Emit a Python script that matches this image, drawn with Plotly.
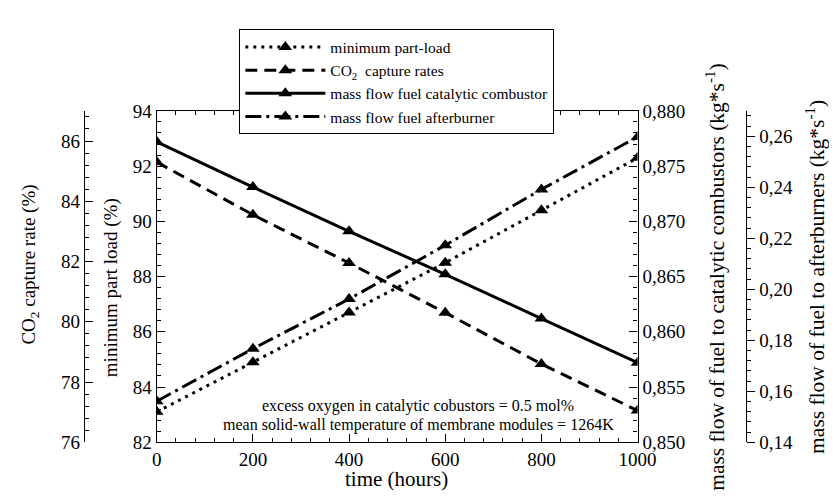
import plotly.graph_objects as go

hours = [0, 200, 400, 600, 800, 1000]
min_part_load = [83.1, 84.9, 86.7, 88.5, 90.4, 92.3]
co2_capture = [85.3, 83.55, 81.95, 80.3, 78.6, 77.05]
fuel_catalytic = [0.8772, 0.8731, 0.8691, 0.8652, 0.8612, 0.8572]
fuel_afterburner = [0.1561, 0.1767, 0.1962, 0.2173, 0.2392, 0.2598]

names = ["minimum part-load", "CO<sub>2</sub>  capture rates",
         "mass flow fuel catalytic combustor", "mass flow fuel afterburner"]
x_title = "time (hours)"
y_titles = ["minimum part load (%)", "CO<sub>2</sub> capture rate (%)",
            "mass flow of fuel to catalytic combustors (kg*s<sup>-1</sup>)",
            "mass flow of fuel to afterburners (kg*s<sup>-1</sup>)"]

W, H = 837, 496
FONT = "'Liberation Serif', 'Times New Roman', Times, serif"
x0, x1 = 148 / W, 643 / W
y0, y1 = (H - 443) / H, (H - 97) / H

fig = go.Figure()
mk = dict(symbol="triangle-up", size=12, color="black")
fig.add_trace(go.Scatter(x=hours, y=min_part_load, name=names[0], mode="lines+markers",
                         line=dict(color="black", width=3, dash="3px,5px"), marker=mk,
                         xaxis="x", yaxis="y"))
fig.add_trace(go.Scatter(x=hours, y=co2_capture, name=names[1], mode="lines+markers",
                         line=dict(color="black", width=3, dash="12px,7px"), marker=mk,
                         xaxis="x", yaxis="y2"))
fig.add_trace(go.Scatter(x=hours, y=fuel_catalytic, name=names[2], mode="lines+markers",
                         line=dict(color="black", width=3), marker=mk,
                         xaxis="x", yaxis="y3"))
fig.add_trace(go.Scatter(x=hours, y=fuel_afterburner, name=names[3], mode="lines+markers",
                         line=dict(color="black", width=3, dash="16px,5px,3px,5px"), marker=mk,
                         xaxis="x", yaxis="y4"))

tickfont = dict(family=FONT, size=19, color="black")

common = dict(showline=True, linecolor="black", linewidth=1.2, showgrid=False,
              zeroline=False, tickfont=tickfont, tickcolor="black", ticklen=8)
minor = lambda d, t: dict(dtick=d, ticks=t, ticklen=4, tickcolor="black")

def title_ann(text, x, y, size, angle=-90):
    return dict(text=text, xref="paper", yref="paper", x=x / W, y=(H - y) / H,
                showarrow=False, xanchor="center", yanchor="middle", textangle=angle,
                font=dict(family=FONT, size=size, color="black"))

fig.update_layout(
    width=W, height=H,
    margin=dict(l=0, r=0, t=0, b=0),
    paper_bgcolor="white", plot_bgcolor="white",
    separators=",.",
    font=dict(family=FONT, color="black"),
    xaxis=dict(domain=[x0, x1], range=[0, 1000], dtick=200, ticks="inside",
               mirror="ticks", minor=minor(40, "inside"), tickformat="d", **common),
    yaxis=dict(domain=[y0, y1], range=[82, 94], dtick=2, ticks="inside",
               minor=minor(0.4, "inside"), **common),
    yaxis2=dict(overlaying="y", anchor="free", position=73 / W, side="left",
                range=[76, 87], tickvals=[76, 78, 80, 82, 84, 86], ticks="inside",
                minor=minor(0.4, "inside"), **common),
    yaxis3=dict(overlaying="y", anchor="x", side="right", range=[0.850, 0.880],
                dtick=0.005, tickformat=".3f", ticks="inside",
                minor=minor(0.001, "inside"), **common),
    yaxis4=dict(overlaying="y", anchor="free", position=755 / W, side="right",
                range=[0.14, 0.27], tickvals=[0.14, 0.16, 0.18, 0.20, 0.22, 0.24, 0.26],
                tickformat=".2f", ticks="outside", minor=minor(0.004, "outside"), **common),
    legend=dict(x=233 / W, y=(H - 12) / H, xanchor="left", yanchor="top",
                bgcolor="white", bordercolor="black", borderwidth=1,
                font=dict(family=FONT, size=15.5, color="black"), itemwidth=80,
                traceorder="normal"),
    annotations=[
        title_ann(x_title, 395, 481, 21, angle=0),
        title_ann(y_titles[0], 101, 282, 19),
        title_ann(y_titles[1], 18, 257, 19),
        title_ann(y_titles[2], 723, 270, 21.5),
        title_ann(y_titles[3], 826, 270, 21.5),
        dict(text="excess oxygen in catalytic cobustors = 0.5 mol%", xref="paper", yref="paper",
             x=417 / W, y=(H - 405) / H, showarrow=False, xanchor="center", yanchor="middle",
             font=dict(family=FONT, size=16, color="black")),
        dict(text="mean solid-wall temperature of membrane modules = 1264K", xref="paper",
             yref="paper", x=417 / W, y=(H - 425) / H, showarrow=False, xanchor="center",
             yanchor="middle", font=dict(family=FONT, size=16, color="black")),
    ],
)

fig.write_html("out.html")
